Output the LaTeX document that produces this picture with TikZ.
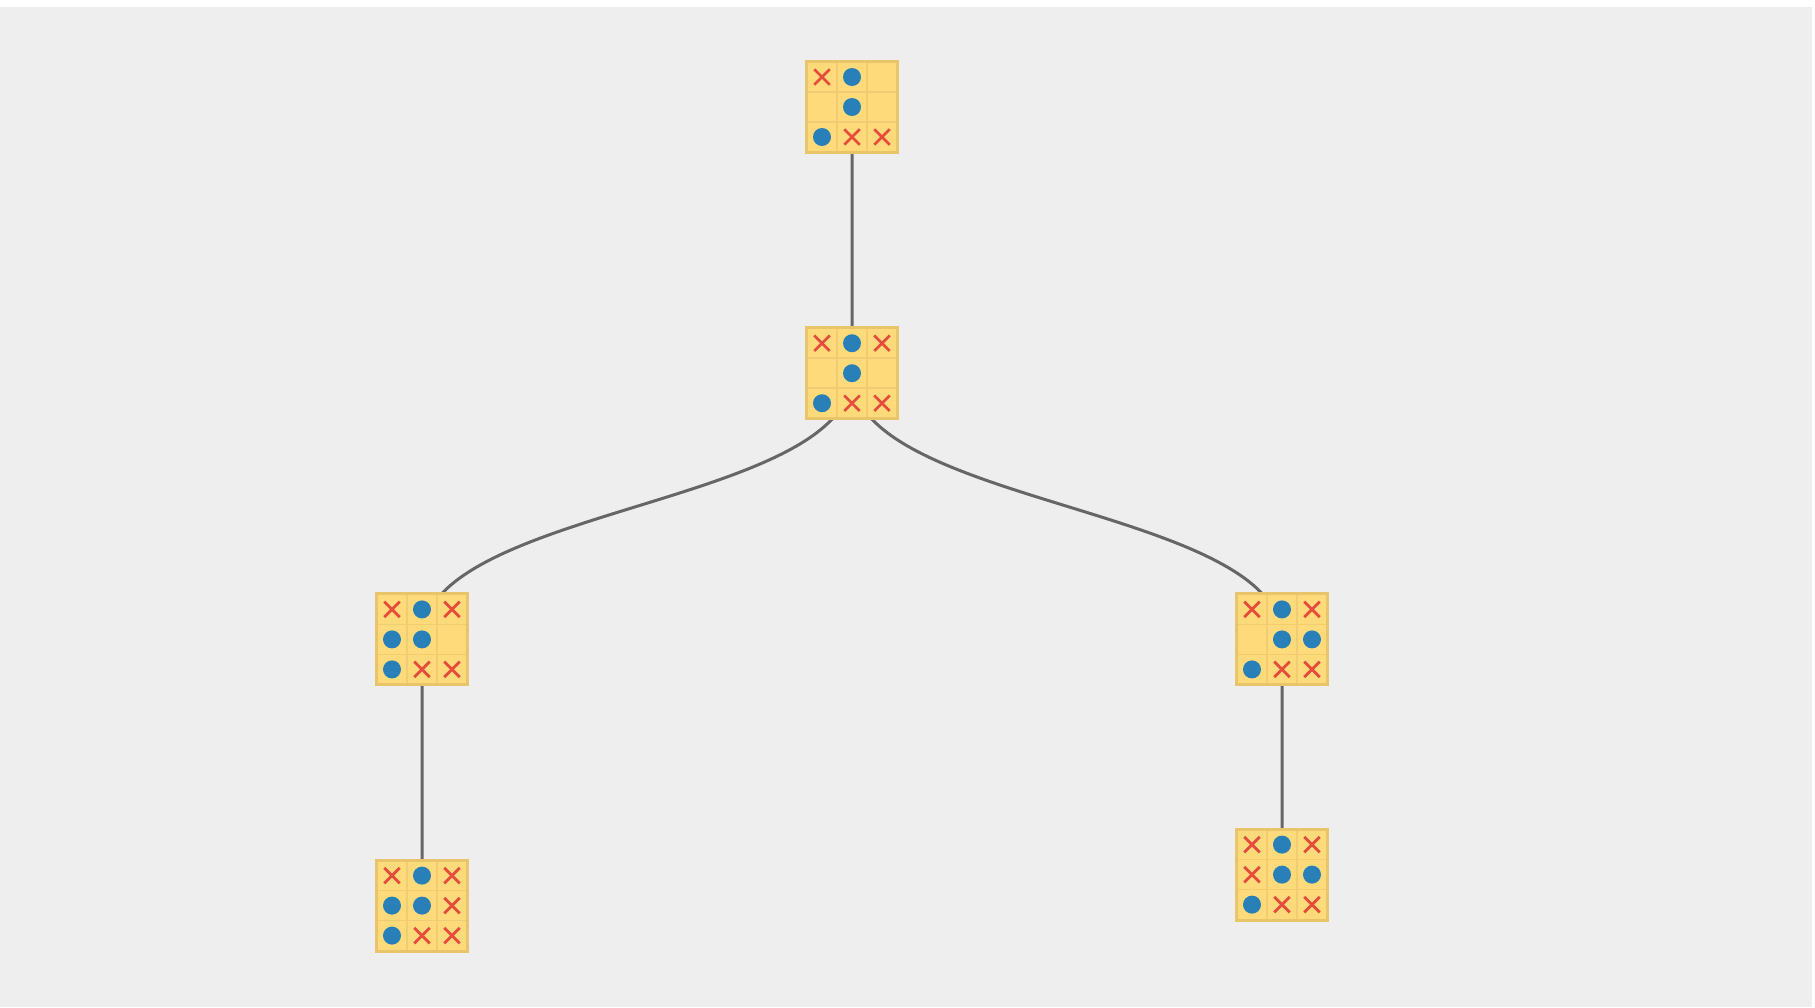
\documentclass[tikz,border=0pt]{standalone}
\usetikzlibrary{backgrounds}

\definecolor{canvas}{HTML}{EEEEEE}
\definecolor{cellfill}{HTML}{FFDA7A}
\definecolor{cellrim}{HTML}{E8C56B}
\definecolor{cellline}{HTML}{F0CC72}
\definecolor{xred}{HTML}{E74C3C}
\definecolor{oblue}{HTML}{2980B9}
\definecolor{linkgray}{HTML}{666666}

\def\cellx{x}
\def\cello{o}
% marks of one board, read row by row
\newcommand\drawcells[1]{%
  \foreach \m [count=\i from 0] in {#1}{%
    \pgfmathtruncatemacro\col{mod(\i,3)-1}%
    \pgfmathtruncatemacro\row{1-int(\i/3)}%
    \ifx\m\cellx
      \draw[xmark] ([shift={(\col*0.6,\row*0.6)}]path picture bounding box.center)
        +(-0.155,-0.155) -- +(0.155,0.155) +(-0.155,0.155) -- +(0.155,-0.155);
    \fi
    \ifx\m\cello
      \fill[omark] ([shift={(\col*0.6,\row*0.6)}]path picture bounding box.center) circle (0.18);
    \fi
  }}

\tikzset{
  xmark/.style={draw=xred, line width=0.055cm},
  omark/.style={fill=oblue},
  gridline/.style={draw=cellline, line width=0.035cm},
  link/.style={draw=linkgray, line width=0.06cm},
  board/.style={draw=cellrim, fill=cellfill, line width=0.06cm,
    rectangle, minimum size=1.82cm, inner sep=0pt,
    path picture={
      \draw[gridline] ([xshift=-0.3cm]path picture bounding box.north) -- ([xshift=-0.3cm]path picture bounding box.south);
      \draw[gridline] ([xshift=0.3cm]path picture bounding box.north) -- ([xshift=0.3cm]path picture bounding box.south);
      \draw[gridline] ([yshift=-0.3cm]path picture bounding box.west) -- ([yshift=-0.3cm]path picture bounding box.east);
      \draw[gridline] ([yshift=0.3cm]path picture bounding box.west) -- ([yshift=0.3cm]path picture bounding box.east);
      \drawcells{#1}
    }}
}

\begin{document}
\begin{tikzpicture}[
    level distance=5.324cm,
    level 2/.style={sibling distance=17.2cm},
    edge from parent/.style={draw=none}]

\useasboundingbox (0,0) rectangle (36.3,-20.14);

\node[board={x,o,n,n,o,n,o,x,x}] (b0) at (17.04,-2.14) {}
    child {node[board={x,o,x,n,o,n,o,x,x}] (b1) {}
        child {node[board={x,o,x,o,o,n,o,x,x}] (b2) {}
            child {node[board={x,o,x,o,o,x,o,x,x}] (b4) {}}
        }
        child {node[board={x,o,x,n,o,o,o,x,x}] (b3) {}
            child {node[board={x,o,x,x,o,o,o,x,x}, yshift=0.62cm] (b5) {}}
        }
    };

\begin{pgfonlayer}{background}
  \fill[white] (0,0) rectangle (36.3,-20.14);
  \fill[canvas] (0,-0.14) rectangle (36.24,-20.14);
  \draw[link] (b0.center) -- (b1.center);
  \draw[link] (b1.center) .. controls +(0,-2.673) and +(0,2.673) .. (b2.center);
  \draw[link] (b1.center) .. controls +(0,-2.673) and +(0,2.673) .. (b3.center);
  \draw[link] (b2.center) -- (b4.center);
  \draw[link] (b3.center) -- (b5.center);
\end{pgfonlayer}

\end{tikzpicture}
\end{document}
